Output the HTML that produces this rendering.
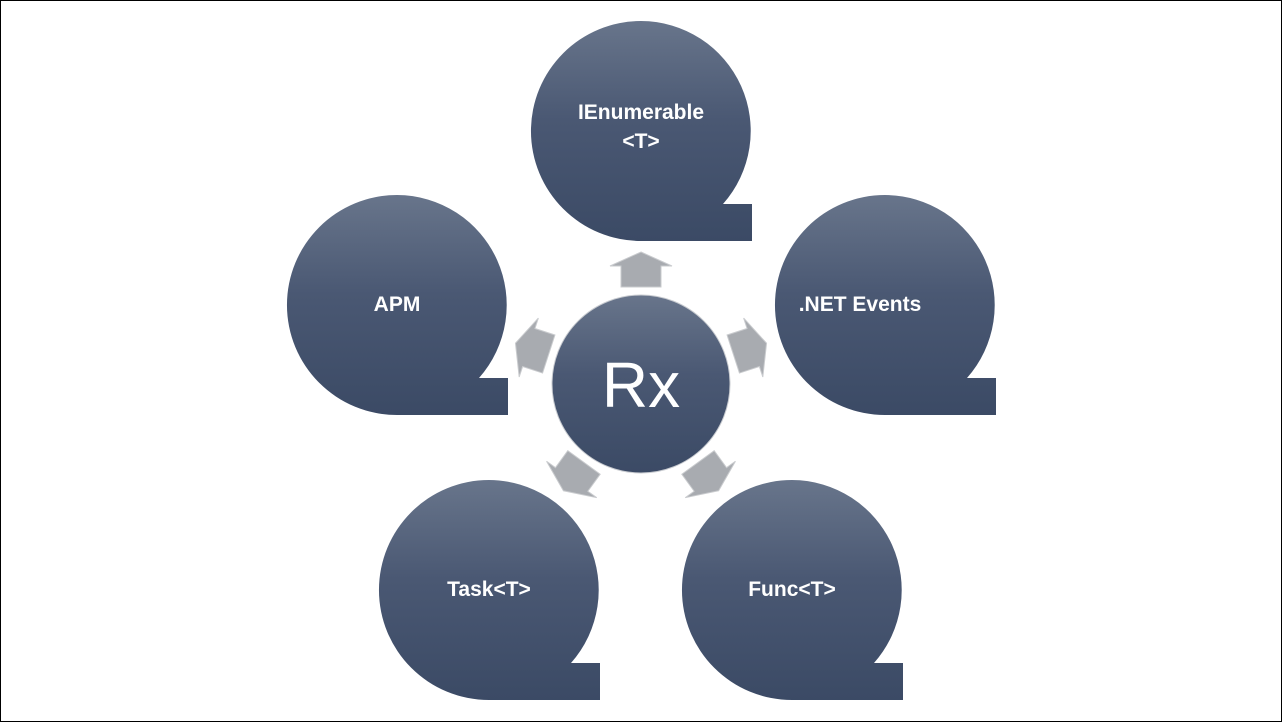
<!DOCTYPE html>
<html><head><style>html,body{margin:0;padding:0;background:#fff}svg{display:block}</style></head><body>
<svg width="1282" height="722" viewBox="0 0 1282 722" xmlns="http://www.w3.org/2000/svg">
<defs>
<linearGradient id="g" x1="0" y1="0" x2="0" y2="1">
<stop offset="0" stop-color="#68758b"/><stop offset="0.45" stop-color="#4a5873"/><stop offset="1" stop-color="#3b4a65"/>
</linearGradient>
<linearGradient id="gq" gradientUnits="userSpaceOnUse" x1="0" y1="-110" x2="0" y2="110">
<stop offset="0" stop-color="#68758b"/><stop offset="0.45" stop-color="#4a5873"/><stop offset="1" stop-color="#3b4a65"/>
</linearGradient>
<g id="q">
<path d="M0,-110 A110,110 0 1 0 0,110 L111,110 L111,73 L82,73 A110,110 0 0 0 0,-110 Z" fill="url(#gq)"/>
</g>
<polygon id="ar" points="0,-18 31,-4 20,-4 20,17 -20,17 -20,-4 -31,-4" fill="#a8abb0" stroke="#c9cbce" stroke-width="1"/>
</defs>
<rect x="0.5" y="0.5" width="1281" height="721" fill="#fff" stroke="#000"/>
<g font-family="Liberation Sans, sans-serif" fill="#fff" font-weight="bold" font-size="21" text-anchor="middle">
<use href="#q" transform="translate(641,131)"/>
<text x="641" y="119">IEnumerable</text><text x="641" y="148">&lt;T&gt;</text>
<use href="#q" transform="translate(397,305)"/>
<text x="397" y="311">APM</text>
<use href="#q" transform="translate(885,305)"/>
<text x="860" y="311">.NET Events</text>
<use href="#q" transform="translate(489,590)"/>
<text x="489" y="596">Task&lt;T&gt;</text>
<use href="#q" transform="translate(792,590)"/>
<text x="792" y="596">Func&lt;T&gt;</text>
</g>
<circle cx="641" cy="384" r="89" fill="url(#g)" stroke="#c8cbd0" stroke-width="1"/>
<text x="641" y="407" font-family="Liberation Sans, sans-serif" font-size="64" fill="#fff" text-anchor="middle">Rx</text>
<g transform="translate(641,384)">
<use href="#ar" transform="rotate(0) translate(0,-114)"/>
<use href="#ar" transform="rotate(72) translate(0,-114)"/>
<use href="#ar" transform="rotate(-72) translate(0,-114)"/>
<use href="#ar" transform="rotate(144) translate(0,-114)"/>
<use href="#ar" transform="rotate(-144) translate(0,-114)"/>
</g>
</svg>
</body></html>
